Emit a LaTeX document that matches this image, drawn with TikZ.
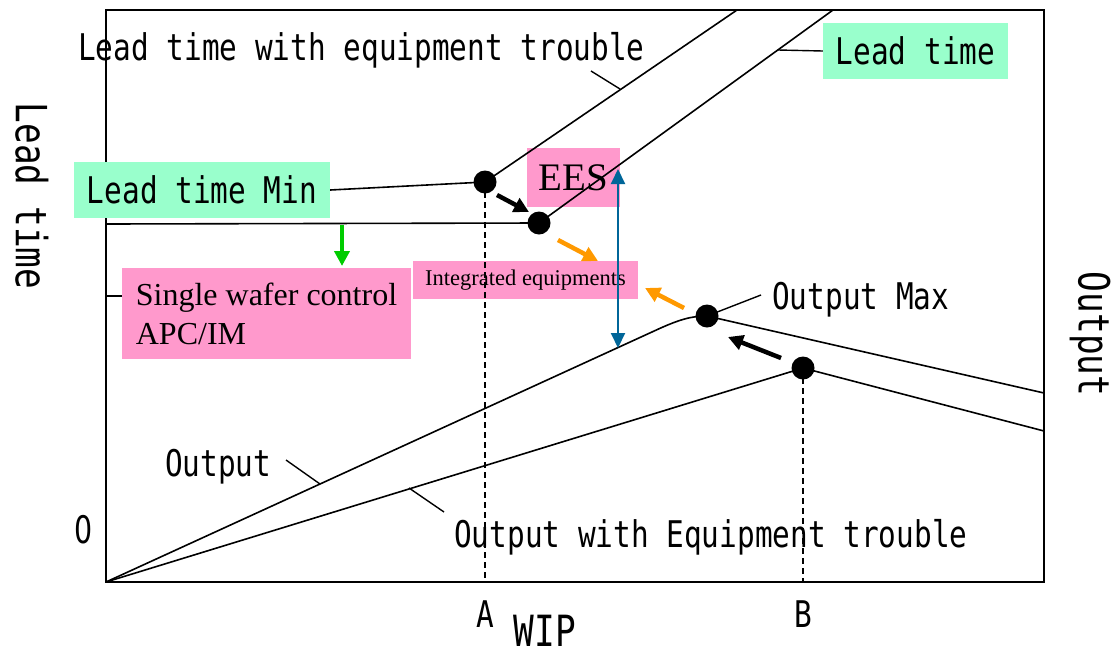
\documentclass[tikz,border=0pt]{standalone}
\usepackage{fontspec}
\setmainfont{Liberation Serif}
\newfontfamily\gothic[FakeStretch=0.8]{DejaVu Sans Mono}
\newfontfamily\gothicdigit[FakeStretch=0.75]{DejaVu Sans}
\usetikzlibrary{arrows.meta}

\definecolor{mint}{HTML}{99FFCC}
\definecolor{rose}{HTML}{FF99CC}
\definecolor{amber}{HTML}{FF9900}
\definecolor{leaf}{HTML}{00CC00}
\definecolor{steel}{HTML}{006699}

\tikzset{
  gt/.style={font={\gothic\fontsize{36.75pt}{44pt}\selectfont}, inner sep=0pt},
  axislabel/.style={font={\gothic\fontsize{43pt}{50pt}\selectfont}, inner sep=0pt},
  curve/.style={line width=1.6pt, black},
  leader/.style={line width=1.4pt, black},
  dot/.style={circle, fill=black, inner sep=0pt, minimum size=23pt},
  guide/.style={line width=1.4pt, dash pattern=on 6pt off 4pt},
  mintbox/.style={gt, fill=mint},
  pinkbox/.style={fill=rose, inner sep=0pt},
  shift arrow/.style={line width=4.5pt, -{Triangle[length=15pt, width=15pt]}},
}

\begin{document}
\begin{tikzpicture}[x=1pt, y=-1pt]
\useasboundingbox (0,0) rectangle (1116,654);

% plot frame
\draw[line width=2pt] (106,10) rectangle (1044,582);
\coordinate (origin) at (106,582);

% labelled boxes
\node[mintbox, minimum width=256pt, minimum height=56pt] (ltmin) at (202,190) {Lead time Min};
\node[mintbox, minimum width=185pt, minimum height=56pt] (ltbox) at (915.5,51) {Lead time};
\node[pinkbox, minimum width=93pt, minimum height=59pt,
      font=\fontsize{39pt}{42pt}\selectfont] (ees) at (573.5,177.5) {EES};
\node[pinkbox, minimum width=225pt, minimum height=38pt,
      font=\fontsize{22.5pt}{26pt}\selectfont] (integ) at (525.5,280) {Integrated equipments};
\node[pinkbox, minimum width=289pt, minimum height=91pt, align=left,
      font=\fontsize{32pt}{39pt}\selectfont] (swc) at (266.5,313.5) {Single wafer control\\APC/IM};

% operating points
\node[dot] (dA) at (485,182) {};
\node[dot] (dL) at (539,223) {};
\node[dot] (dM) at (707,316) {};
\node[dot] (dB) at (803,368) {};

% lead time curves
\coordinate (ltTroubleTop) at (737,10);
\coordinate (ltTop) at (833,10);
\coordinate (ltLeft) at (106,224);
\draw[curve] (ltmin.east) -- (dA.center) -- (ltTroubleTop);
\draw[curve] (ltLeft) -- (dL.center) -- (ltTop);

% output curves
\coordinate (outRight) at (1044,393);
\coordinate (troubleRight) at (1044,431);
\draw[curve] (origin) -- (655,330.6) .. controls (680,319) and (692,316) .. (dM.center) -- (outRight);
\draw[curve] (origin) -- (dB.center) -- (troubleRight);

% tick to the control box
\coordinate (tick) at (106,296);
\draw[leader] (tick) -- (swc.west |- tick);

% guide lines down to the WIP axis
\coordinate (footA) at (485,582);
\coordinate (footB) at (803,582);
\draw[guide] (dA.center) -- (footA);
\draw[guide] (dB.center) -- (footB);

% curve labels with leaders
\node[gt, anchor=base west] (lblTrouble) at (78,60) {Lead time with equipment trouble};
\coordinate (ldT1) at (591,71);
\coordinate (ldT2) at (620,89);
\draw[leader] (ldT1) -- (ldT2);

\coordinate (ldL) at (778,50);
\draw[leader] (ldL) -- (ltbox.west);

\node[gt, anchor=base west] (lblMax) at (772,309) {Output Max};
\coordinate (ldM) at (761,295);
\draw[leader] (dM.center) -- (ldM);

\node[gt, anchor=base west] (lblOut) at (165,476) {Output};
\coordinate (ldO1) at (286,460);
\coordinate (ldO2) at (320,484);
\draw[leader] (ldO1) -- (ldO2);

\node[gt, anchor=base west] (lblOutT) at (454,547) {Output with Equipment trouble};
\coordinate (ldE1) at (409,488);
\coordinate (ldE2) at (444,512);
\draw[leader] (ldE1) -- (ldE2);

% axis labels
\node[inner sep=0pt, font={\gothicdigit\fontsize{38pt}{44pt}\selectfont}, anchor=base] (zero) at (84,543) {0};
\node[gt, anchor=base] (labA) at (485,627) {A};
\node[gt, anchor=base] (labB) at (803,627) {B};
\node[axislabel, anchor=base] (wip) at (545,646) {WIP};
\node[axislabel, rotate=-90] (ylab) at (32,196) {Lead time};
\node[axislabel, rotate=-90] (y2lab) at (1090,334) {Output};

% improvement arrows
\coordinate (bk1s) at (497,195);
\coordinate (bk1e) at (529,212);
\draw[shift arrow, black] (bk1s) -- (bk1e);
\coordinate (bk2s) at (781,358);
\coordinate (bk2e) at (728,337);
\draw[shift arrow, black] (bk2s) -- (bk2e);

\coordinate (or1s) at (558,240);
\coordinate (or1e) at (598,261);
\draw[shift arrow, amber] (or1s) -- (or1e);
\coordinate (or2s) at (684,308);
\coordinate (or2e) at (645,288);
\draw[shift arrow, amber] (or2s) -- (or2e);

\coordinate (grs) at (342,225);
\coordinate (gre) at (342,266);
\draw[line width=4pt, leaf, -{Triangle[length=15pt, width=15pt]}] (grs) -- (gre);

\coordinate (blT) at (618,169);
\coordinate (blB) at (618,348);
\draw[line width=2pt, steel, {Triangle[length=15pt, width=14pt]}-{Triangle[length=15pt, width=14pt]}] (blB) -- (blT);

\end{tikzpicture}
\end{document}
